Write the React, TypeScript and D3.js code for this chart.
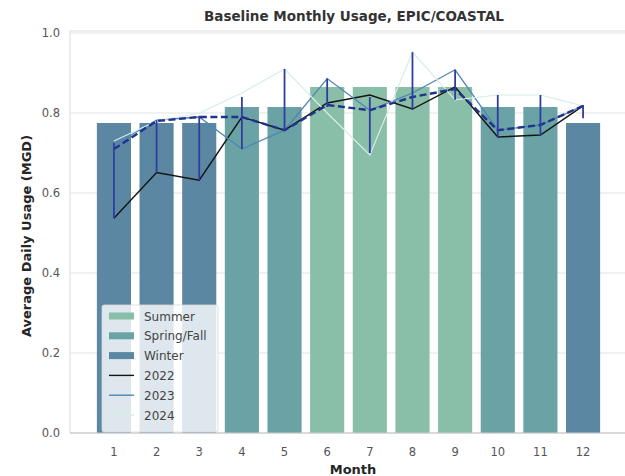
import React from 'react';
import * as d3 from 'd3';

const months = [1, 2, 3, 4, 5, 6, 7, 8, 9, 10, 11, 12];
const seasons = ['Winter', 'Winter', 'Winter', 'Spring/Fall', 'Spring/Fall', 'Summer', 'Summer', 'Summer', 'Summer', 'Spring/Fall', 'Spring/Fall', 'Winter'];
const baseline = [0.775, 0.775, 0.775, 0.815, 0.815, 0.865, 0.865, 0.865, 0.865, 0.815, 0.815, 0.775];
const y2022 = [0.537, 0.651, 0.632, 0.79, 0.757, 0.825, 0.845, 0.81, 0.865, 0.74, 0.745, 0.818];
const y2023 = [0.72, 0.782, 0.79, 0.71, 0.757, 0.886, 0.807, 0.85, 0.908, 0.757, 0.77, 0.818];
const y2024 = [0.73, 0.78, 0.8, 0.85, 0.91, 0.8, 0.695, 0.952, 0.833, 0.845, 0.845, 0.818];
const meanLine = [0.71, 0.78, 0.79, 0.79, 0.757, 0.82, 0.807, 0.84, 0.86, 0.757, 0.77, 0.818];
const errLow = [0.537, 0.651, 0.632, 0.71, 0.757, 0.815, 0.7, 0.808, 0.833, 0.74, 0.745, 0.787];
const errHigh = [0.725, 0.782, 0.793, 0.84, 0.91, 0.886, 0.84, 0.952, 0.908, 0.845, 0.845, 0.82];
const yTicks = [0, 0.2, 0.4, 0.6, 0.8, 1.0];

const seasonColor: Record<string, string> = {
  Summer: '#89bea8',
  'Spring/Fall': '#6aa2a5',
  Winter: '#5b87a3',
};
const yearLines = [
  { label: '2022', data: y2022, color: '#141414', width: 1.4 },
  { label: '2023', data: y2023, color: '#4d86b6', width: 1.3 },
  { label: '2024', data: y2024, color: '#d6eee6', width: 1.2 },
];

export default function App() {
  const left = 70, right = 627, top = 31, bottom = 433;
  // month index 0..11, x limits a bit beyond the bars
  const x = d3.scaleLinear().domain([-1.03, 12.03]).range([left, right]);
  const y = d3.scaleLinear().domain([0, 1.005]).range([bottom, top]);
  const line = d3.line<number>().x((_, i) => x(i)).y(d => y(d));
  const barW = x(0.4) - x(-0.4);

  const legendItems = [
    { label: 'Summer', type: 'patch', color: seasonColor.Summer },
    { label: 'Spring/Fall', type: 'patch', color: seasonColor['Spring/Fall'] },
    { label: 'Winter', type: 'patch', color: seasonColor.Winter },
    ...yearLines.map(l => ({ label: l.label, type: 'line', color: l.color })),
  ];

  return (
    <div style={{ position: 'fixed', left: 0, top: 0 }}>
      <svg width={625} height={476} style={{ display: 'block', background: '#fff' }} fontFamily="DejaVu Sans, sans-serif">
        {/* grid */}
        {yTicks.map(t => (
          <line key={t} x1={left} x2={right} y1={y(t)} y2={y(t)} stroke="#e3e3e3" strokeWidth={1} />
        ))}
        <rect x={left} y={top} width={right - left} height={bottom - top} fill="none" stroke="#dedede" strokeWidth={1} />

        {/* bars */}
        {months.map((m, i) => (
          <rect key={m} x={x(i) - barW / 2} y={y(baseline[i])} width={barW} height={y(0) - y(baseline[i])}
            fill={seasonColor[seasons[i]]} />
        ))}

        {/* year lines */}
        {yearLines.map(l => (
          <path key={l.label} d={line(l.data) || ''} fill="none" stroke={l.color} strokeWidth={l.width} />
        ))}

        {/* mean dashed + error bars */}
        <path d={line(meanLine) || ''} fill="none" stroke="#22338c" strokeWidth={2.4} strokeDasharray="7,3.5" />
        {months.map((m, i) => (
          <line key={m} x1={x(i)} x2={x(i)} y1={y(errLow[i])} y2={y(errHigh[i])} stroke="#2d3ea0" strokeWidth={1.8} />
        ))}

        {/* axes */}
        <line x1={left} x2={right} y1={bottom} y2={bottom} stroke="#cccccc" strokeWidth={1.2} />
        {yTicks.map(t => (
          <text key={t} x={left - 10} y={y(t) + 4} textAnchor="end" fontSize={11.5} fill="#555">{d3.format('.1f')(t)}</text>
        ))}
        {months.map((m, i) => (
          <text key={m} x={x(i)} y={456} textAnchor="middle" fontSize={11.5} fill="#555">{m}</text>
        ))}

        <text x={354} y={21} textAnchor="middle" fontSize={13.5} fontWeight="bold" fill="#333">Baseline Monthly Usage, EPIC/COASTAL</text>
        <text x={353} y={474} textAnchor="middle" fontSize={13} fontWeight="bold" fill="#262626">Month</text>
        <text transform={`translate(31,${236}) rotate(-90)`} textAnchor="middle" fontSize={13} fontWeight="bold" fill="#262626">Average Daily Usage (MGD)</text>

        {/* legend */}
        <g>
          <rect x={102} y={305} width={116} height={127} rx={2} fill="#ffffff" fillOpacity={0.8} stroke="#d8d8d8" strokeWidth={0.8} />
          {legendItems.map((it, i) => {
            const cy = 316 + i * 19.8;
            return (
              <g key={it.label}>
                {it.type === 'patch'
                  ? <rect x={109} y={cy - 3.5} width={25} height={7} fill={it.color} />
                  : <line x1={109} x2={134} y1={cy} y2={cy} stroke={it.color} strokeWidth={1.4} />}
                <text x={144} y={cy + 4.5} fontSize={12} fill="#444">{it.label}</text>
              </g>
            );
          })}
        </g>
      </svg>
    </div>
  );
}
